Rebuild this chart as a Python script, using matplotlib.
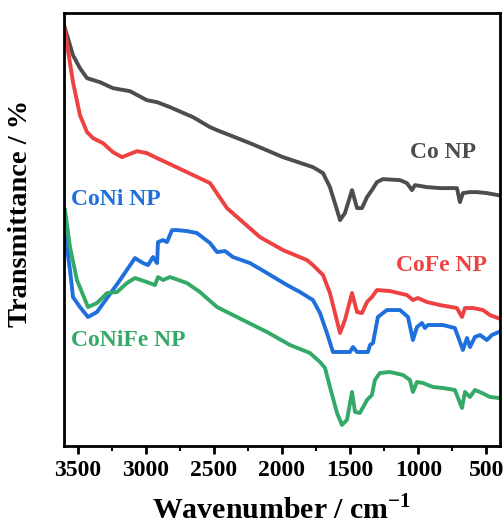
import matplotlib
matplotlib.use("Agg")
import matplotlib.pyplot as plt
from matplotlib.ticker import MultipleLocator

# Numeros de onda (cm-1) y transmitancia (unidades arbitrarias) de cada muestra
wnCo = [3600, 3534, 3483, 3431, 3336, 3241, 3116, 2992, 2917, 2822, 2653, 2528, 2477, 2235, 1993,
        1773, 1699, 1648, 1596, 1574, 1538, 1486, 1449, 1413, 1376, 1340, 1303, 1259, 1134,
        1083, 1046, 1024, 936, 841, 716, 694, 672, 620, 569, 496, 415]
trCo = [421, 391, 378, 368, 364, 358, 355, 346, 344, 339, 329, 319, 316, 303, 289,
        279, 273, 259, 236, 226, 233, 256, 238, 238, 249, 256, 264, 267, 266,
        263, 256, 261, 259, 258, 258, 244, 253, 254, 254, 253, 251]

wnCoFe = [3600, 3571, 3534, 3483, 3431, 3387, 3314, 3241, 3174, 3138, 3064, 2992, 2917, 2822, 2528,
          2404, 2162, 1993, 1817, 1773, 1699, 1648, 1574, 1538, 1486, 1449, 1413, 1376, 1340,
          1303, 1208, 1083, 1039, 1002, 936, 841, 716, 679, 657, 598, 525, 474, 415]
trCoFe = [421, 396, 364, 331, 314, 308, 303, 294, 289, 291, 295, 293, 288, 282, 263,
          238, 209, 196, 186, 181, 171, 153, 113, 126, 153, 134, 133, 144, 149,
          156, 155, 151, 146, 148, 144, 141, 138, 129, 138, 138, 136, 131, 128]

wnCoNi = [3590, 3556, 3534, 3483, 3424, 3358, 3284, 3189, 3079, 3020, 2983, 2947, 2917, 2910, 2873,
          2844, 2807, 2771, 2697, 2624, 2528, 2477, 2418, 2360, 2235, 2110, 1963, 1868, 1773,
          1721, 1670, 1626, 1501, 1479, 1449, 1369, 1354, 1332, 1296, 1230, 1134, 1075, 1039,
          1009, 973, 951, 929, 819, 731, 672, 642, 620, 584, 547, 496, 459, 408]
trCoNi = [210, 176, 149, 139, 129, 134, 148, 166, 188, 183, 181, 189, 183, 204, 206,
          204, 216, 216, 215, 213, 203, 194, 195, 189, 183, 173, 161, 154, 146,
          133, 113, 94, 94, 99, 94, 94, 101, 103, 129, 136, 136, 129, 106,
          119, 123, 118, 121, 121, 118, 96, 108, 99, 109, 111, 106, 111, 114]

wnCoNiFe = [3593, 3556, 3505, 3424, 3358, 3284, 3211, 3138, 3079, 2992, 2932, 2910, 2873, 2822,
            2697, 2602, 2477, 2360, 2110, 1941, 1795, 1721, 1684, 1648, 1596, 1560, 1523, 1486,
            1464, 1428, 1376, 1340, 1318, 1281, 1208, 1112, 1061, 1039, 1009, 966, 892, 819,
            731, 679, 657, 620, 584, 532, 474, 408]
trCoNiFe = [236, 199, 166, 139, 143, 153, 154, 163, 168, 164, 161, 169, 166, 169,
            163, 154, 139, 131, 114, 101, 93, 84, 78, 59, 33, 21, 26, 54,
            34, 33, 46, 51, 66, 73, 74, 71, 66, 54, 64, 63, 59, 58,
            56, 38, 54, 49, 56, 53, 49, 48]

plt.rcParams['font.family'] = ['Liberation Serif', 'DejaVu Serif']
plt.rcParams['font.weight'] = 'bold'
plt.rcParams['mathtext.fontset'] = 'custom'
plt.rcParams['mathtext.rm'] = 'Liberation Serif:bold'
plt.rcParams['mathtext.bf'] = 'Liberation Serif:bold'

fig = plt.figure(figsize=(5.04, 5.29), dpi=100)
ax = fig.add_axes([0.127, 0.157, 0.865, 0.818])

ax.plot(wnCo, trCo, color='#4d4d4d', lw=2.8)
ax.plot(wnCoFe, trCoFe, color='#ee4242', lw=2.8)
ax.plot(wnCoNi, trCoNi, color='#1f6fdc', lw=2.8)
ax.plot(wnCoNiFe, trCoNiFe, color='#35aa68', lw=2.8)

# Etiquetas de cada curva
ax.text(818, 294, 'Co NP', color='#4d4d4d', fontsize=17, fontweight='bold', ha='center', va='center')
ax.text(833, 181, 'CoFe NP', color='#ee4242', fontsize=17, fontweight='bold', ha='center', va='center')
ax.text(3218, 247, 'CoNi NP', color='#1f6fdc', fontsize=17, fontweight='bold', ha='center', va='center')
ax.text(3130, 106, 'CoNiFe NP', color='#35aa68', fontsize=17, fontweight='bold', ha='center', va='center')

ax.set_xlim(3600, 400)
ax.set_ylim(0, 433)
ax.xaxis.set_major_locator(MultipleLocator(500))
ax.xaxis.set_minor_locator(MultipleLocator(250))
ax.set_yticks([])
ax.tick_params(axis='x', which='major', direction='out', length=6, width=2, labelsize=17, pad=4)
ax.tick_params(axis='x', which='minor', direction='out', length=3.5, width=1.5)
for lbl in ax.get_xticklabels():
    lbl.set_fontweight('bold')
for sp in ax.spines.values():
    sp.set_linewidth(2)

ax.set_xlabel('Wavenumber / cm$^{-1}$', fontsize=21.5, fontweight='bold', labelpad=10)
ax.set_ylabel('Transmittance / %', fontsize=20.5, fontweight='bold')
ax.yaxis.set_label_coords(-0.071, 0.538)

fig.savefig('out.png', dpi=100)
